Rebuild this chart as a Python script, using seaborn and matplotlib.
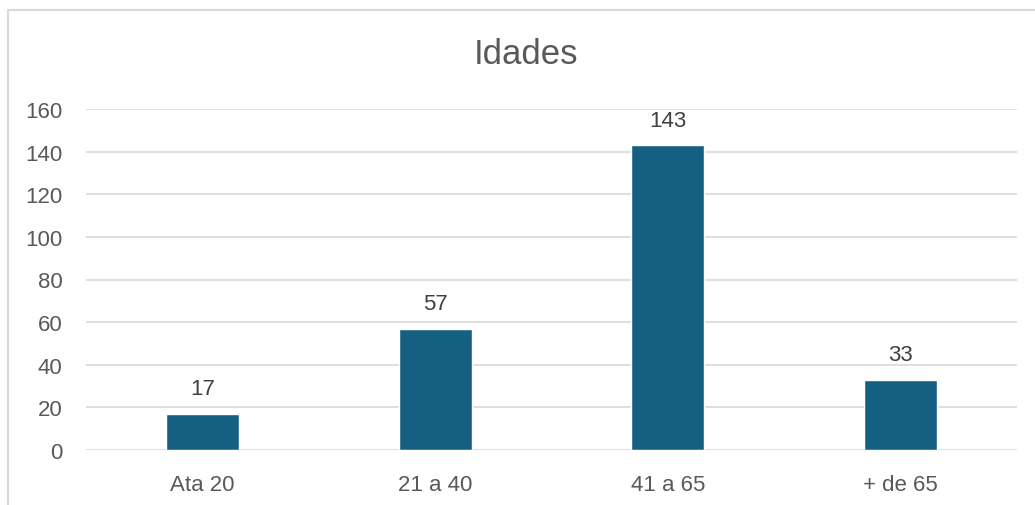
import pandas as pd
import matplotlib.pyplot as plt
import seaborn as sns
from matplotlib.patches import Rectangle

# Data
categorias = ["Ata 20", "21 a 40", "41 a 65", "+ de 65"]
valores = [17, 57, 143, 33]
yticks = [0, 20, 40, 60, 80, 100, 120, 140, 160]

df = pd.DataFrame({"Idade": categorias, "Total": valores})

sns.set_style("white")
plt.rcParams['font.family'] = ['Liberation Sans', 'DejaVu Sans']

W, H = 1035, 506
fig = plt.figure(figsize=(W / 100, H / 100), dpi=100)
ax = fig.add_axes([86 / W, 1 - 451 / H, (1017 - 86) / W, (451 - 110) / H])

sns.barplot(data=df, x="Idade", y="Total", color="#156082", width=0.314,
            saturation=1, ax=ax, zorder=3)

# Data labels
for i, v in enumerate(valores):
    ax.annotate(str(v), (i, v), xytext=(0, 14), textcoords="offset points",
                ha="center", va="baseline", fontsize=16, color="#404040")

ax.set_xlim(-0.5, 3.5)
ax.set_ylim(0, 160)
ax.set_yticks(yticks)
ax.grid(axis="y", color="#d9d9d9", linewidth=1.2, zorder=0)
ax.set_axisbelow(True)
for s in ax.spines.values():
    s.set_visible(False)
ax.tick_params(axis="both", length=0, labelsize=16, colors="#595959")
ax.tick_params(axis="y", pad=17)
ax.tick_params(axis="x", pad=17.5)
ax.set_xlabel("")
ax.set_ylabel("")

# Title
fig.text(526 / W, 1 - 55 / H, "Idades", ha="center", va="center",
         fontsize=25, color="#595959")

# Chart border
fig.patches.append(Rectangle((8 / W, -0.1), 1.2, 1 - 11 / H + 0.1,
                             transform=fig.transFigure, fill=False,
                             edgecolor="#d9d9d9", linewidth=1.5))

plt.savefig("out.png", dpi=100)
plt.close()
